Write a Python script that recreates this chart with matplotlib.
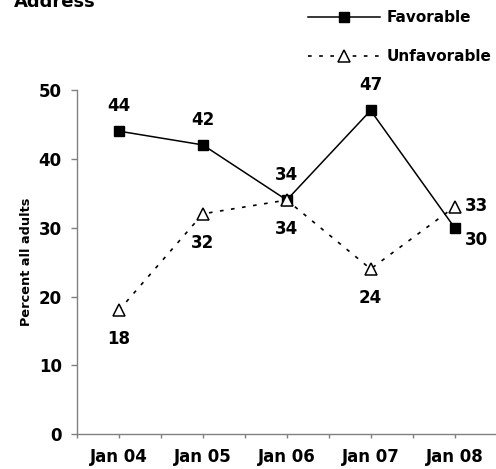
import matplotlib
matplotlib.use("Agg")
import matplotlib.pyplot as plt
from matplotlib.ticker import MultipleLocator

# データ
years = ["Jan 04", "Jan 05", "Jan 06", "Jan 07", "Jan 08"]
favorable = [44, 42, 34, 47, 30]
unfavorable = [18, 32, 34, 24, 33]

plt.rcParams["font.family"] = "DejaVu Sans"
plt.rcParams["font.weight"] = "bold"

fig = plt.figure(figsize=(4.96, 4.69), dpi=100)
ax = fig.add_axes([77 / 496, 1 - 434.3 / 469, 419.5 / 496, 344.5 / 469])

x = list(range(len(years)))
ax.plot(x, favorable, color="black", lw=1.1, marker="s", ms=7.2,
        mfc="black", mec="black", label="Favorable", zorder=3)
ax.plot(x, unfavorable, color="black", lw=1.2, ls=(0, (2.2, 4.5)), marker="^",
        ms=8, mfc="white", mec="black", mew=1.1, label="Unfavorable", zorder=4)

# ラベル
last = len(years) - 1
for i, v in enumerate(favorable):
    if i == last:
        ax.annotate(str(v), (i, v), xytext=(16, -9), textcoords="offset points",
                    ha="center", va="center", fontsize=12, fontweight="bold")
    else:
        ax.annotate(str(v), (i, v), xytext=(0, 18), textcoords="offset points",
                    ha="center", va="center", fontsize=12, fontweight="bold")
for i, v in enumerate(unfavorable):
    if i == last:
        ax.annotate(str(v), (i, v), xytext=(16, 1), textcoords="offset points",
                    ha="center", va="center", fontsize=12, fontweight="bold")
    else:
        ax.annotate(str(v), (i, v), xytext=(0, -21), textcoords="offset points",
                    ha="center", va="center", fontsize=12, fontweight="bold")

ax.set_xlim(-0.5, 4.5)
ax.set_ylim(0, 50)
ax.set_xticks(x)
ax.set_xticklabels(years, fontsize=12, fontweight="bold")
ax.xaxis.set_minor_locator(MultipleLocator(0.5))
ax.set_yticks(range(0, 51, 10))
ax.tick_params(axis="y", labelsize=12, length=4, width=1, color="gray", pad=7)
ax.tick_params(axis="x", which="both", length=3, width=1, color="gray", pad=7)
for lab in ax.get_yticklabels():
    lab.set_fontweight("bold")
ax.set_ylabel("Percent all adults", fontsize=9.3, fontweight="bold", labelpad=4)

for s in ["top", "right"]:
    ax.spines[s].set_visible(False)
for s in ["left", "bottom"]:
    ax.spines[s].set_color("gray")
    ax.spines[s].set_linewidth(1)

fig.text(14 / 496, 1 - 7 / 469, "Address", fontsize=13, fontweight="bold",
         ha="left", va="baseline")

fig.legend(loc="upper left", bbox_to_anchor=(308 / 496, 1 - 10 / 469),
           frameon=False, handlelength=4.7, handletextpad=0.45,
           labelspacing=1.6, borderpad=0, borderaxespad=0, numpoints=1,
           prop={"weight": "bold", "size": 11})

fig.savefig("out.png", dpi=100)
